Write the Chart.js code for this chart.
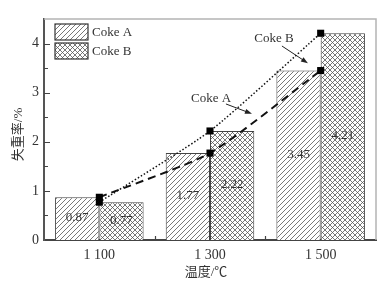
<!DOCTYPE html>
<html>
<head>
<meta charset="utf-8">
<script src="https://cdn.jsdelivr.net/npm/chart.js@4"></script>
<style>
  html, body { margin: 0; padding: 0; background: #fff; }
  #box { width: 383px; height: 285px; }
</style>
</head>
<body>
<div id="box"><canvas id="grafico"></canvas></div>
<script>
// dados do grafico
var categorias = ['1 100', '1 300', '1 500'];
var cokeA = [0.87, 1.77, 3.45];
var cokeB = [0.77, 2.22, 4.21];
var rotulosY = [0, 1, 2, 3, 4];
var nomes = ['Coke A', 'Coke B'];

var serif = "'Liberation Serif', 'Noto Sans CJK SC', serif";

// padroes de hachura
function hachura(cruzada) {
  var c = document.createElement('canvas');
  c.width = 5; c.height = 5;
  var g = c.getContext('2d');
  g.fillStyle = '#fff';
  g.fillRect(0, 0, 5, 5);
  g.strokeStyle = '#555';
  g.lineWidth = 0.8;
  g.beginPath();
  g.moveTo(0, 5); g.lineTo(5, 0);
  g.moveTo(-1, 1); g.lineTo(1, -1);
  g.moveTo(4, 6); g.lineTo(6, 4);
  if (cruzada) {
    g.moveTo(0, 0); g.lineTo(5, 5);
    g.moveTo(-1, 4); g.lineTo(1, 6);
    g.moveTo(4, -1); g.lineTo(6, 1);
  }
  g.stroke();
  return g.createPattern(c, 'repeat');
}
var padraoA = hachura(false);
var padraoB = hachura(true);

// setas com texto (em coordenadas de dados)
var anotacoes = [
  { texto: 'Coke B', tx: 1.578, ty: 4.11, x0: 1.65, y0: 3.95, x1: 1.885, y1: 3.60 },
  { texto: 'Coke A', tx: 1.009, ty: 2.87, x0: 1.144, y0: 2.77, x1: 1.379, y1: 2.57 }
];

var extras = {
  id: 'extras',
  afterDatasetsDraw: function (chart) {
    var ctx = chart.ctx;
    var a = chart.chartArea;
    var sx = chart.scales.x, sy = chart.scales.y;
    ctx.save();

    // moldura superior e direita
    ctx.strokeStyle = '#b4b4b4';
    ctx.lineWidth = 1.5;
    ctx.beginPath();
    ctx.moveTo(a.left, a.top); ctx.lineTo(a.right, a.top); ctx.lineTo(a.right, a.bottom);
    ctx.stroke();

    // marcas para dentro
    ctx.strokeStyle = '#444';
    ctx.lineWidth = 1.2;
    ctx.beginPath();
    for (var v = 0.5; v <= 4.0; v += 0.5) {
      var py = Math.round(sy.getPixelForValue(v)) + 0.5;
      var len = (v % 1 === 0) ? 6 : 4;
      ctx.moveTo(a.left, py); ctx.lineTo(a.left + len, py);
    }
    for (var k = 0; k < categorias.length - 1; k++) {
      var px = Math.round(sx.getPixelForValue(k + 0.5)) + 0.5;
      ctx.moveTo(px, a.bottom); ctx.lineTo(px, a.bottom - 4);
    }
    ctx.stroke();

    // valores nas barras
    ctx.fillStyle = '#333';
    ctx.font = '13px ' + serif;
    ctx.textAlign = 'center';
    ctx.textBaseline = 'middle';
    [0, 1].forEach(function (d) {
      var meta = chart.getDatasetMeta(d);
      var valores = d === 0 ? cokeA : cokeB;
      meta.data.forEach(function (bar, i) {
        ctx.fillText(valores[i].toFixed(2), bar.x, (bar.y + bar.base) / 2 - 1);
      });
    });

    // anotacoes com seta
    anotacoes.forEach(function (n) {
      var x0 = sx.getPixelForValue(n.x0), y0 = sy.getPixelForValue(n.y0);
      var x1 = sx.getPixelForValue(n.x1), y1 = sy.getPixelForValue(n.y1);
      ctx.fillStyle = '#333';
      ctx.fillText(n.texto, sx.getPixelForValue(n.tx), sy.getPixelForValue(n.ty));
      var ang = Math.atan2(y1 - y0, x1 - x0);
      ctx.strokeStyle = '#222';
      ctx.lineWidth = 1;
      ctx.beginPath();
      ctx.moveTo(x0, y0);
      ctx.lineTo(x1 - 5 * Math.cos(ang), y1 - 5 * Math.sin(ang));
      ctx.stroke();
      ctx.fillStyle = '#222';
      ctx.beginPath();
      ctx.moveTo(x1, y1);
      ctx.lineTo(x1 - 7 * Math.cos(ang) + 2.5 * Math.sin(ang), y1 - 7 * Math.sin(ang) - 2.5 * Math.cos(ang));
      ctx.lineTo(x1 - 7 * Math.cos(ang) - 2.5 * Math.sin(ang), y1 - 7 * Math.sin(ang) + 2.5 * Math.cos(ang));
      ctx.closePath();
      ctx.fill();
    });

    // legenda
    var padroes = [padraoA, padraoB];
    ctx.textAlign = 'left';
    for (var j = 0; j < nomes.length; j++) {
      var ly = a.top + 5 + j * 19;
      ctx.fillStyle = padroes[j];
      ctx.fillRect(a.left + 11, ly, 33, 16);
      ctx.strokeStyle = '#333';
      ctx.lineWidth = 1.2;
      ctx.strokeRect(a.left + 11, ly, 33, 16);
      ctx.fillStyle = '#333';
      ctx.font = '13px ' + serif;
      ctx.fillText(nomes[j], a.left + 48, ly + 8.5);
    }

    // titulos dos eixos
    ctx.font = '13px ' + serif;
    ctx.textAlign = 'center';
    ctx.fillText('温度/℃', (a.left + a.right) / 2 - 4, 273);
    ctx.save();
    ctx.translate(19, (a.top + a.bottom) / 2 + 5);
    ctx.rotate(-Math.PI / 2);
    ctx.fillText('失重率/%', 0, 0);
    ctx.restore();

    ctx.restore();
  }
};

var dados = {
  labels: categorias,
  datasets: [
    { type: 'bar', label: nomes[0], data: cokeA, backgroundColor: padraoA, borderColor: '#444', borderWidth: 1, order: 2 },
    { type: 'bar', label: nomes[1], data: cokeB, backgroundColor: padraoB, borderColor: '#444', borderWidth: 1, order: 2 },
    { type: 'line', label: nomes[0] + ' linha', data: cokeA, borderColor: '#111', borderWidth: 2, borderDash: [8, 5],
      pointStyle: 'rect', pointRadius: 5, pointBackgroundColor: '#000', pointBorderWidth: 0, fill: false, tension: 0.2, order: 0, clip: false },
    { type: 'line', label: nomes[1] + ' linha', data: cokeB, borderColor: '#111', borderWidth: 1.5, borderDash: [1.5, 2],
      pointStyle: 'rect', pointRadius: 5, pointBackgroundColor: '#000', pointBorderWidth: 0, fill: false, tension: 0.2, order: 1, clip: false }
  ]
};

var config = {
  data: dados,
  options: {
    responsive: true,
    maintainAspectRatio: false,
    animation: false,
    layout: { padding: { left: 0, top: 19, right: 7, bottom: 0 } },
    plugins: { legend: { display: false }, tooltip: { enabled: false } },
    datasets: { bar: { barPercentage: 1, categoryPercentage: 0.8 } },
    scales: {
      x: {
        grid: { display: false, drawTicks: false, tickLength: 0 },
        border: { display: true, color: '#444', width: 2 },
        ticks: { color: '#333', font: { family: serif, size: 14 }, padding: 7 },
        afterFit: function (s) { s.height = 45; }
      },
      y: {
        min: 0,
        max: 4.5,
        grid: { display: false, drawTicks: false, tickLength: 0 },
        border: { display: true, color: '#555', width: 2 },
        ticks: { color: '#333', font: { family: serif, size: 14 }, padding: 5 },
        afterBuildTicks: function (s) { s.ticks = rotulosY.map(function (v) { return { value: v }; }); },
        afterFit: function (s) { s.width = 44; }
      }
    }
  },
  plugins: [extras]
};

var grafico = new Chart(document.getElementById('grafico'), config);
</script>
</body>
</html>
